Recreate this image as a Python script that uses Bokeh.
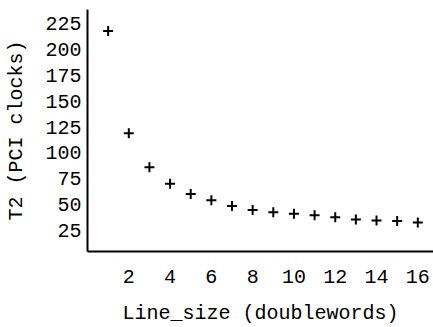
from bokeh.plotting import figure
from bokeh.models import Range1d, FixedTicker
from bokeh.embed import file_html
from bokeh.resources import INLINE

line_size = [1, 2, 3, 4, 5, 6, 7, 8, 9, 10, 11, 12, 13, 14, 15, 16]
t2_clocks = [218, 119, 86, 70, 60, 54, 48.5, 44.5, 42.5, 41, 39.5, 37.5, 35.5, 34.5, 34, 32.5]
x_ticks = [2, 4, 6, 8, 10, 12, 14, 16]
y_ticks = [25, 50, 75, 100, 125, 150, 175, 200, 225]

FONT = "Liberation Mono"

p = figure(width=433, height=327, output_backend="svg", toolbar_location=None,
           x_range=Range1d(0, 16.76), y_range=Range1d(4.4, 238.9),
           min_border_left=87, min_border_right=0, min_border_top=9, min_border_bottom=76)
p.outline_line_color = None
p.xgrid.grid_line_color = None
p.ygrid.grid_line_color = None
p.background_fill_color = "white"
p.border_fill_color = "white"

p.scatter(line_size, t2_clocks, marker="cross", size=10, line_width=2, color="black")

for ax in (p.xaxis[0], p.yaxis[0]):
    ax.axis_line_width = 2
    ax.axis_line_color = "black"
    ax.major_tick_line_color = None
    ax.minor_tick_line_color = None
    ax.major_tick_out = 0
    ax.major_tick_in = 0
    ax.minor_tick_out = 0
    ax.major_label_text_font = FONT
    ax.major_label_text_font_size = "20px"
    ax.major_label_text_color = "black"
    ax.axis_label_text_font = FONT
    ax.axis_label_text_font_size = "20px"
    ax.axis_label_text_font_style = "normal"
    ax.axis_label_text_color = "black"

p.xaxis.ticker = FixedTicker(ticks=x_ticks)
p.yaxis.ticker = FixedTicker(ticks=y_ticks)
p.xaxis.axis_label = "Line_size (doublewords)"
p.yaxis.axis_label = "T2 (PCI clocks)"
p.xaxis.major_label_standoff = 18
p.xaxis.axis_label_standoff = 16
p.yaxis.major_label_standoff = 6
p.yaxis.axis_label_standoff = 14

open("out.html", "w").write(file_html(p, INLINE))
